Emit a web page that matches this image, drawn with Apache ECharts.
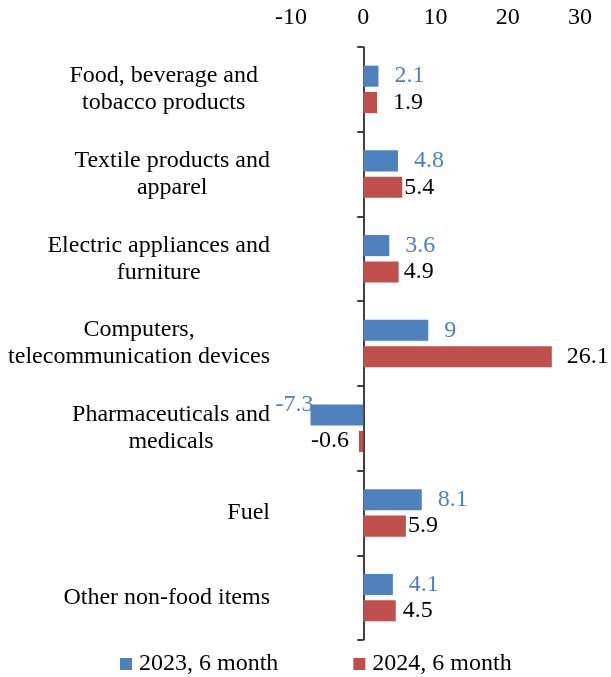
<!DOCTYPE html>
<html>
<head>
<meta charset="utf-8">
<script src="https://cdn.jsdelivr.net/npm/echarts@6/dist/echarts.min.js"></script>
<style>
  html, body { margin: 0; padding: 0; background: #fff; }
  #chart { width: 611px; height: 677px; }
</style>
</head>
<body>
<div id="chart"></div>
<script>
// Product groups, top to bottom
const categories = [
  'Food, beverage and\ntobacco products',
  'Textile products and\napparel',
  'Electric appliances and\nfurniture',
  'Computers,\ntelecommunication devices',
  'Pharmaceuticals and\nmedicals',
  'Fuel',
  'Other non-food items'
];
const seriesNames = ['2023, 6 month', '2024, 6 month'];
const values2023 = [2.1, 4.8, 3.6, 9, -7.3, 8.1, 4.1];
const values2024 = [1.9, 5.4, 4.9, 26.1, -0.6, 5.9, 4.5];
const xTicks = [-10, 0, 10, 20, 30];

// Gap (px) between each 2024 bar end and its value label
const labelGap2024 = [16, 2, 5, 15, 10, 2, 7];

const FONT = '"Liberation Serif", "Times New Roman", serif';
const FS = 24;
const BLUE = '#4F81BD';
const RED = '#C0504D';

// Attach per-bar label placement: outside the bar end on the side of its sign
function withLabels(values, gapFor, negOffsetY) {
  return values.map((v, i) => ({
    value: v,
    label: v < 0
      ? { position: 'left', distance: gapFor(i, v), offset: [0, negOffsetY] }
      : { position: 'right', distance: gapFor(i, v) }
  }));
}

const chart = echarts.init(document.getElementById('chart'), null, { renderer: 'canvas' });

const catText = { fontFamily: FONT, fontSize: FS, color: '#000', lineHeight: 27, align: 'center' };

chart.setOption({
  animation: false,
  backgroundColor: '#fff',
  textStyle: { fontFamily: FONT },
  grid: { left: 291, right: 31, top: 47, bottom: 37, containLabel: false, outerBoundsMode: 'none' },
  legend: {
    left: 115,
    top: 647,
    itemWidth: 12,
    itemHeight: 12,
    itemGap: 75,
    icon: 'rect',
    textStyle: { fontFamily: FONT, fontSize: FS, color: '#000', padding: [0, 0, 0, 2] },
    data: seriesNames
  },
  xAxis: {
    type: 'value',
    position: 'top',
    min: xTicks[0],
    max: xTicks[xTicks.length - 1],
    interval: 10,
    axisLine: { show: false },
    axisTick: { show: false },
    splitLine: { show: false },
    axisLabel: { fontFamily: FONT, fontSize: FS, color: '#000', margin: 17 }
  },
  yAxis: {
    type: 'category',
    inverse: true,
    data: categories,
    axisLine: { show: true, onZero: true, lineStyle: { color: '#000', width: 1.5 } },
    axisTick: { show: true, length: 6, lineStyle: { color: '#000', width: 1.5 } },
    axisLabel: {
      interval: 0,
      fontFamily: FONT,
      fontSize: FS,
      color: '#000',
      align: 'right',
      margin: 21,
      lineHeight: 27,
      // lines of a wrapped label are centred on each other; the first block sits a little further left
      formatter: function (val, idx) {
        const key = idx === 0 ? 'f' : 'c';
        return val.split('\n').map(l => '{' + key + '|' + l + '}').join('\n');
      },
      rich: {
        c: catText,
        f: Object.assign({}, catText, { padding: [0, 12, 0, 0] })
      }
    }
  },
  series: [
    {
      name: seriesNames[0],
      type: 'bar',
      data: withLabels(values2023, (i, v) => (v < 0 ? -3 : 16), -10),
      itemStyle: { color: BLUE },
      barGap: '25%',
      barCategoryGap: '44%',
      label: { show: true, fontFamily: FONT, fontSize: FS, color: BLUE }
    },
    {
      name: seriesNames[1],
      type: 'bar',
      data: withLabels(values2024, (i) => labelGap2024[i], -1),
      itemStyle: { color: RED },
      barGap: '25%',
      barCategoryGap: '44%',
      label: { show: true, fontFamily: FONT, fontSize: FS, color: '#000' }
    }
  ]
});
</script>
</body>
</html>
